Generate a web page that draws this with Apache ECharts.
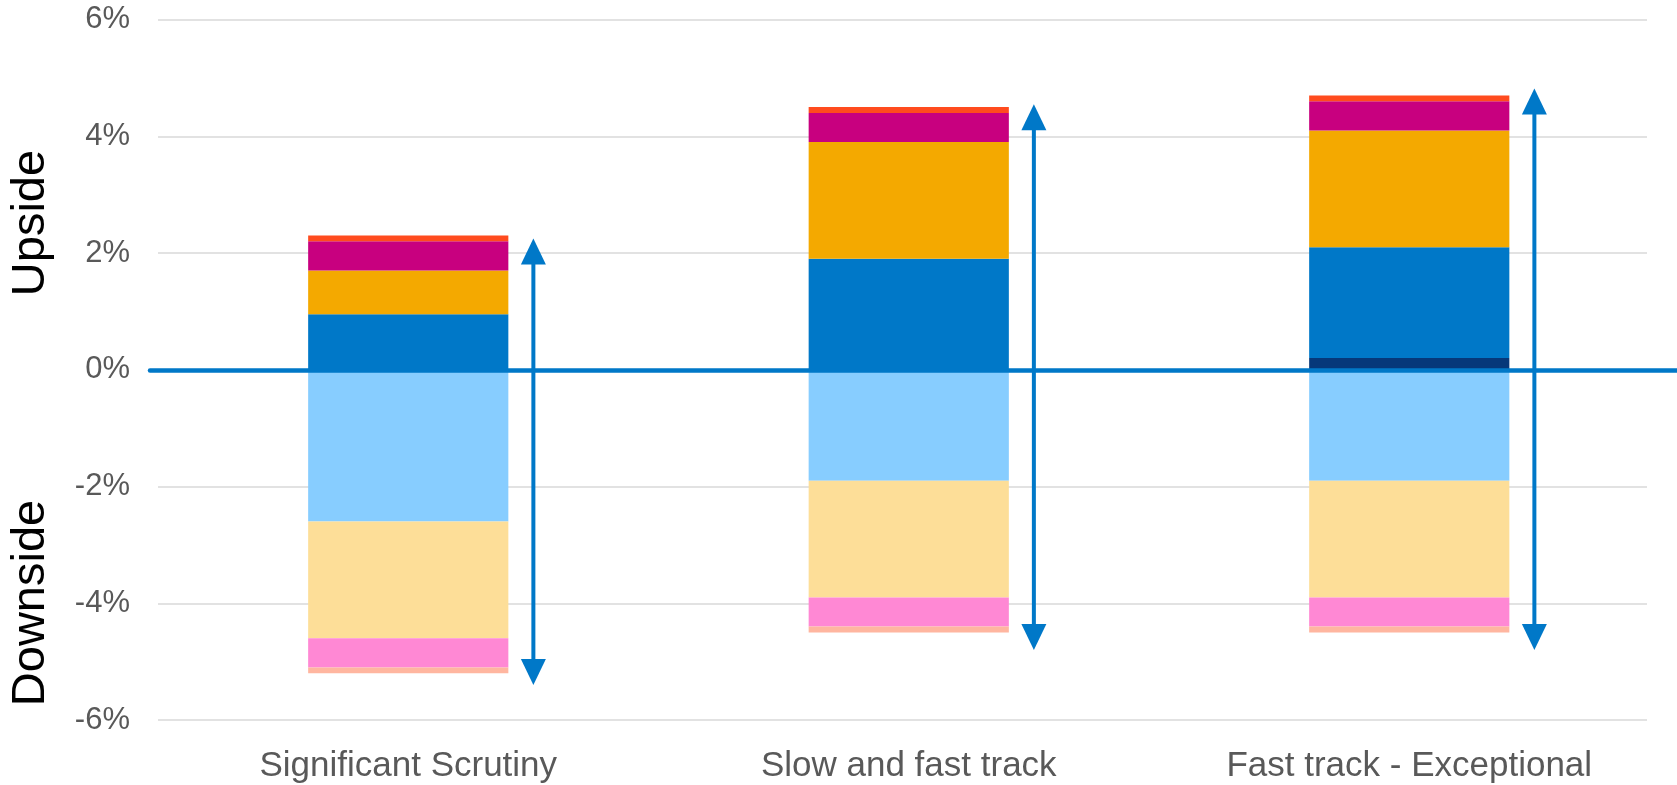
<!DOCTYPE html>
<html>
<head>
<meta charset="utf-8">
<title>Upside / Downside by track</title>
<script src="https://cdn.jsdelivr.net/npm/echarts@6/dist/echarts.min.js"></script>
<style>
  html, body { margin: 0; padding: 0; background: #ffffff; }
  #chart { width: 1677px; height: 785px; }
</style>
</head>
<body>
<div id="chart"></div>
<script>
// Scenario categories
const categories = ['Significant Scrutiny', 'Slow and fast track', 'Fast track - Exceptional'];

// Upside contributions (%), stacked upward from zero
const upNavy    = [0,    0,   0.2];
const upBlue    = [0.95, 1.9, 1.9];
const upOrange  = [0.75, 2.0, 2.0];
const upMagenta = [0.5,  0.5, 0.5];
const upRed     = [0.1,  0.1, 0.1];

// Downside contributions (%), stacked downward from zero
const downLightBlue = [-2.6, -1.9, -1.9];
const downYellow    = [-2.0, -2.0, -2.0];
const downPink      = [-0.5, -0.5, -0.5];
const downPeach     = [-0.1, -0.1, -0.1];

// Range arrows: tip values (%) above and below zero
const arrowTop    = [2.25, 4.55, 4.82];
const arrowBottom = [-5.4, -4.8, -4.8];

// Value axis ticks
const yMin = -6, yMax = 6, yStep = 2;

const FONT = 'Liberation Sans, Arial, sans-serif';
const ARROW_BLUE = '#0078C8';

const chart = echarts.init(document.getElementById('chart'), null, { renderer: 'canvas' });

function bar(name, data, color) {
  return {
    name, type: 'bar', stack: 'total', data,
    xAxisIndex: 0, yAxisIndex: 0,
    barWidth: '40%',
    itemStyle: { color },
    emphasis: { disabled: true },
    silent: true
  };
}

const arrowData = categories.map((c, i) => [i, arrowTop[i], arrowBottom[i]]);

const option = {
  animation: false,
  backgroundColor: '#ffffff',
  textStyle: { fontFamily: FONT },
  grid: [
    // bars and labels
    { left: 158, right: 17.5, top: 19.5, bottom: 65 },
    // zero baseline, running to the right edge
    { left: 150, right: 0, top: 19.5, bottom: 65 },
    // horizontal gridlines
    { left: 158, right: 30, top: 19.5, bottom: 65 }
  ],
  xAxis: [
    {
      type: 'category', gridIndex: 0, data: categories,
      axisLine: { show: false, onZero: false },
      axisTick: { show: false },
      axisLabel: { fontSize: 35, color: '#595959', margin: 29, fontFamily: FONT },
      splitLine: { show: false }
    },
    {
      type: 'value', gridIndex: 1, min: 0, max: 1, z: 5,
      axisLine: { show: true, onZero: true, lineStyle: { color: ARROW_BLUE, width: 4.5 } },
      axisTick: { show: false }, axisLabel: { show: false }, splitLine: { show: false }
    },
    {
      type: 'value', gridIndex: 2, min: 0, max: 1, show: false
    }
  ],
  yAxis: [
    {
      type: 'value', gridIndex: 0, min: yMin, max: yMax, interval: yStep,
      axisLine: { show: false }, axisTick: { show: false },
      splitLine: { show: false },
      axisLabel: { formatter: '{value}%', fontSize: 31, color: '#595959', margin: 28, fontFamily: FONT }
    },
    {
      type: 'value', gridIndex: 1, min: yMin, max: yMax, interval: yStep, show: false
    },
    {
      type: 'value', gridIndex: 2, min: yMin, max: yMax, interval: yStep,
      axisLine: { show: false }, axisTick: { show: false }, axisLabel: { show: false },
      splitLine: { show: true, lineStyle: { color: '#D9D9D9', width: 1.5 } }
    }
  ],
  // Rotated side captions, centred on their anchor points
  graphic: [
    {
      type: 'text', x: 31, y: 223, rotation: Math.PI / 2,
      style: { text: 'Upside', font: '47px ' + FONT, fill: '#000000', align: 'center', verticalAlign: 'middle' }
    },
    {
      type: 'text', x: 31, y: 603, rotation: Math.PI / 2,
      style: { text: 'Downside', font: '47px ' + FONT, fill: '#000000', align: 'center', verticalAlign: 'middle' }
    }
  ],
  series: [
    bar('Upside 1', upNavy, '#06387A'),
    bar('Upside 2', upBlue, '#0078C8'),
    bar('Upside 3', upOrange, '#F4A900'),
    bar('Upside 4', upMagenta, '#C8007F'),
    bar('Upside 5', upRed, '#FF4B1E'),
    bar('Downside 1', downLightBlue, '#87CDFF'),
    bar('Downside 2', downYellow, '#FDDE98'),
    bar('Downside 3', downPink, '#FF88D4'),
    bar('Downside 4', downPeach, '#FFB6A0'),
    {
      type: 'custom', name: 'Range',
      xAxisIndex: 0, yAxisIndex: 0, z: 6, silent: true,
      data: arrowData,
      encode: { x: 0, y: [1, 2] },
      renderItem: function (params, api) {
        const idx = api.value(0);
        const band = api.size([1, 0])[0];
        const base = api.coord([idx, 0]);
        const x = base[0] + band * 0.25;
        const y0 = base[1];
        const yt = api.coord([idx, api.value(1)])[1];
        const yb = api.coord([idx, api.value(2)])[1];
        const headL = 26, headW = 12.5;
        const stroke = { stroke: ARROW_BLUE, lineWidth: 4 };
        return {
          type: 'group',
          children: [
            { type: 'line', shape: { x1: x, y1: y0, x2: x, y2: yt + headL - 2 }, style: stroke },
            { type: 'polygon', shape: { points: [[x, yt], [x - headW, yt + headL], [x + headW, yt + headL]] }, style: { fill: ARROW_BLUE } },
            { type: 'line', shape: { x1: x, y1: y0, x2: x, y2: yb - headL + 2 }, style: stroke },
            { type: 'polygon', shape: { points: [[x, yb], [x - headW, yb - headL], [x + headW, yb - headL]] }, style: { fill: ARROW_BLUE } }
          ]
        };
      }
    }
  ]
};

chart.setOption(option);
</script>
</body>
</html>
